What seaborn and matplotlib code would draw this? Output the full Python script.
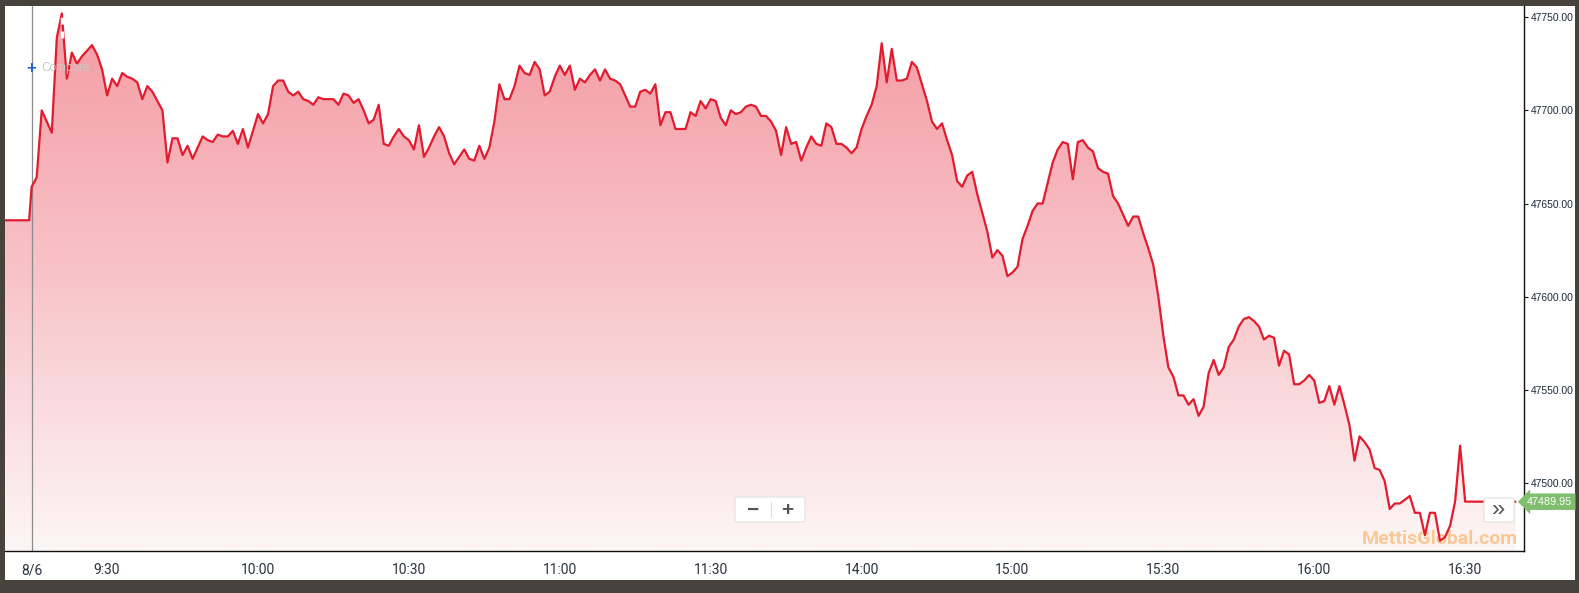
import numpy as np
import pandas as pd
import matplotlib
matplotlib.use("Agg")
import matplotlib.pyplot as plt
import seaborn as sns
from matplotlib.patches import FancyBboxPatch, Rectangle
from matplotlib.lines import Line2D
from matplotlib.colors import LinearSegmentedColormap
from matplotlib.transforms import blended_transform_factory

# previous close (flat part before the open) and last traded level
prev_close = 47641.0
last_price = 47489.95

# index level for each trading minute, minute 0 = open on 8/6
minute_values = [
    47659, 47664, 47700, 47694, 47688, 47739, 47752, 47717, 47731, 47725,
    47729, 47732, 47735, 47730, 47722, 47708, 47717, 47713, 47720, 47718,
    47717, 47715, 47706, 47713, 47710, 47705, 47700, 47672, 47685, 47685,
    47676, 47681, 47674, 47680, 47686, 47684, 47683, 47687, 47686, 47686,
    47689, 47682, 47690, 47680, 47689, 47698, 47693, 47698, 47713, 47716,
    47716, 47710, 47708, 47710, 47706, 47705, 47703, 47707, 47706, 47706,
    47706, 47703, 47709, 47708, 47704, 47706, 47700, 47693, 47695, 47703,
    47682, 47681, 47686, 47690, 47686, 47684, 47679, 47692, 47675, 47680,
    47686, 47691, 47686, 47677, 47671, 47675, 47679, 47674, 47673, 47681,
    47674, 47680, 47694, 47714, 47706, 47706, 47713, 47724, 47720, 47719,
    47726, 47722, 47708, 47710, 47718, 47724, 47719, 47724, 47711, 47717,
    47715, 47719, 47722, 47716, 47722, 47717, 47716, 47714, 47708, 47702,
    47702, 47710, 47711, 47709, 47714, 47692, 47699, 47699, 47690, 47690,
    47690, 47699, 47697, 47705, 47701, 47706, 47705, 47696, 47692, 47700,
    47698, 47699, 47702, 47703, 47702, 47697, 47697, 47694, 47689, 47676,
    47691, 47682, 47683, 47673, 47680, 47686, 47682, 47681, 47693, 47691,
    47682, 47682, 47680, 47677, 47680, 47690, 47697, 47703, 47713, 47736,
    47715, 47733, 47716, 47716, 47717, 47726, 47723, 47714, 47705, 47694,
    47690, 47693, 47684, 47676, 47662, 47659, 47665, 47667, 47655, 47645,
    47635, 47621, 47625, 47622, 47611, 47613, 47616, 47631, 47638, 47646,
    47650, 47650, 47661, 47672, 47679, 47683, 47682, 47663, 47683, 47684,
    47680, 47678, 47669, 47667, 47666, 47654, 47650, 47644, 47638, 47643,
    47643, 47634, 47626, 47617, 47600, 47579, 47562, 47557, 47547, 47547,
    47542, 47545, 47536, 47541, 47559, 47566, 47558, 47562, 47573, 47577,
    47584, 47588, 47589, 47587, 47584, 47577, 47579, 47578, 47563, 47571,
    47569, 47553, 47553, 47555, 47558, 47555, 47543, 47544, 47552, 47542,
    47552, 47542, 47531, 47512, 47525, 47522, 47518, 47508, 47507, 47501,
    47486, 47489, 47489, 47491, 47493, 47484, 47484, 47472, 47484, 47484,
    47469, 47471, 47477, 47490, 47520, 47490,
]

tick_minutes = [0, 15, 45, 75, 105, 135, 165, 195, 225, 255, 285]
tick_labels = ["8/6", "9:30", "10:00", "10:30", "11:00", "11:30",
               "14:00", "15:00", "15:30", "16:00", "16:30"]
y_ticks = [47500, 47550, 47600, 47650, 47700, 47750]

times = [-6, -0.5] + list(range(len(minute_values))) + [295]
levels = [prev_close, prev_close] + minute_values + [last_price]
df = pd.DataFrame({"minute": times, "level": levels})

sns.set_style("white")
plt.rcParams["font.family"] = ["Liberation Sans", "DejaVu Sans"]
narrow = ["Liberation Sans Narrow", "Roboto", "DejaVu Sans"]

W, H = 1579, 593
def fx(px):
    return px / W
def fy(py):
    return 1 - py / H

fig = plt.figure(figsize=(W / 100, H / 100), dpi=100, facecolor="#48423c")
fig.patches.append(Rectangle((fx(5), fy(580)), fx(1570), 574 / H, transform=fig.transFigure,
                             facecolor="white", edgecolor="none", zorder=-10))

ax = fig.add_axes([fx(5), fy(551), (1524 - 5) / W, (551 - 6) / H])
ax.set_zorder(1)
ax.set_facecolor("white")
xlim = (-5.3, 296.7)
ylim = (47463.5, 47756.0)

# gradient fill under the line
cmap = LinearSegmentedColormap.from_list("pinkfade", ["#f49aa2", "#f8c4c9", "#fdf6f6"])
grad = np.linspace(0, 1, 256).reshape(-1, 1)
im = ax.imshow(grad, extent=[xlim[0], xlim[1], ylim[0], ylim[1]], aspect="auto",
               cmap=cmap, origin="upper", zorder=1)
poly = ax.fill_between(df["minute"], df["level"], ylim[0], facecolor="none", edgecolor="none")
im.set_clip_path(poly.get_paths()[0], transform=ax.transData)

ax.axvline(0, color="#8c8c8c", lw=0.9, zorder=2)

# watermark sits under the price line
ax.text(fx(1518), fy(539), "MettisGlobal.com", transform=fig.transFigure, ha="right",
        va="center", fontsize=14, weight="bold", color="#f9c48a", alpha=0.9,
        family=narrow, zorder=2.5, clip_on=False)

sns.lineplot(data=df, x="minute", y="level", color="#e31b2e", linewidth=1.6, ax=ax, zorder=3)
ax.plot([6, 6], [47739, 47753], color="white", lw=2.5, ls=(0, (2, 2)), zorder=4)

ax.set_xlim(*xlim)
ax.set_ylim(*ylim)
ax.set_xlabel("")
ax.set_ylabel("")

for s in ["top", "left"]:
    ax.spines[s].set_visible(False)
for s in ["right", "bottom"]:
    ax.spines[s].set_color("#111111")
    ax.spines[s].set_linewidth(1)

ax.yaxis.tick_right()
ax.set_yticks(y_ticks)
ax.set_yticklabels([f"{v:.2f}" for v in y_ticks])
ax.tick_params(axis="y", length=3, width=0.8, pad=2, labelsize=7.4,
               colors="#111111", labelcolor="#1d2b3a")
ax.set_xticks(tick_minutes)
ax.set_xticklabels(tick_labels, family=narrow)
ax.tick_params(axis="x", length=5, width=0.8, pad=4, labelsize=10,
               colors="#111111", labelcolor="#2a3340")

# overlays: compare, zoom buttons, scroll button, price tag
fig.text(fx(31), fy(68), "+", color="#1f5fd1", fontsize=12, ha="center", va="center",
         weight="bold", zorder=6)
fig.text(fx(41), fy(68), "Compare...", color="#c9c9c9", fontsize=8.5, va="center", zorder=6)

fig.add_artist(FancyBboxPatch((fx(735), fy(522)), 70 / W, 25 / H,
                              boxstyle="round,pad=0,rounding_size=0.002",
                              transform=fig.transFigure, facecolor="white",
                              edgecolor="#e2e2e2", lw=0.8, zorder=5))
fig.add_artist(Line2D([fx(771), fx(771)], [fy(502), fy(517)], color="#dddddd", lw=0.8,
                      transform=fig.transFigure, zorder=6))
fig.text(fx(752), fy(510), "\u2212", color="#555555", fontsize=15, ha="center", va="center",
         weight="bold", zorder=6)
fig.text(fx(787), fy(510), "+", color="#555555", fontsize=15, ha="center", va="center",
         weight="bold", zorder=6)

fig.add_artist(FancyBboxPatch((fx(1484), fy(522)), 30 / W, 24 / H,
                              boxstyle="round,pad=0,rounding_size=0.002",
                              transform=fig.transFigure, facecolor="white",
                              edgecolor="#e2e2e2", lw=0.8, zorder=5))
fig.text(fx(1499), fy(510), "\u00bb", color="#555555", fontsize=17, ha="center", va="center",
         zorder=6)

trans = blended_transform_factory(fig.transFigure, ax.transData)
ax.text(fx(1527), last_price, f"{last_price:.2f}", transform=trans, ha="left", va="center",
        fontsize=7.8, color="white", clip_on=False, zorder=7,
        bbox=dict(boxstyle="larrow,pad=0.3", facecolor="#80bd6e", edgecolor="none"))

fig.savefig("out.png", dpi=100, facecolor=fig.get_facecolor())
